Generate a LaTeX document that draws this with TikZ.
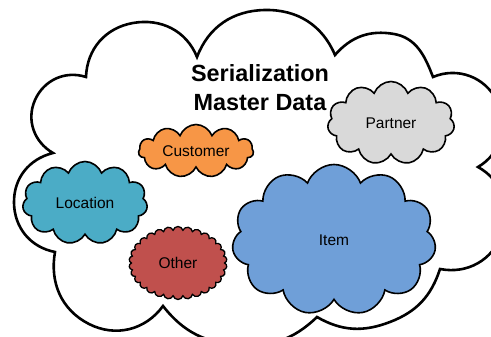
\documentclass[tikz,border=0pt]{standalone}
\usepackage{fontspec}
\setmainfont{Liberation Sans}
\usetikzlibrary{shapes.symbols}
\definecolor{cOrange}{HTML}{F79646}
\definecolor{cGray}{HTML}{D9D9D9}
\definecolor{cTeal}{HTML}{4BACC6}
\definecolor{cRed}{HTML}{C0504D}
\definecolor{cBlue}{HTML}{6F9FD8}
\begin{document}
\begin{tikzpicture}[x=1pt,y=1pt,
  smallcloud/.style={cloud, cloud puffs=11, cloud puff arc=140, cloud ignores aspect,
    draw=black, line width=1.6pt, inner sep=0pt,
    font=\fontsize{15.5}{18}\selectfont},
  bigcloud/.style={draw=black, line width=2.6pt, fill=white},
  titletext/.style={align=center, inner sep=0pt,
    font=\fontsize{23.4}{29}\selectfont\bfseries}
]
\useasboundingbox (0,0) rectangle (491,337);
\begin{scope}
\clip (0,0) rectangle (491,337);
\coordinate (N1) at (86,260);
\coordinate (N2) at (197,280);
\coordinate (N3) at (335,282);
\coordinate (N4) at (433,260);
\coordinate (N5) at (478,170);
\coordinate (N6) at (440,68);
\coordinate (N7) at (317,20);
\coordinate (N8) at (163,31);
\coordinate (N9) at (55,85);
\coordinate (N10) at (53,184);
\draw[bigcloud]
  (N1) to[out=88,in=190] (133,314) to[out=10,in=112] (N2)
  to[out=69,in=181] (265,327) to[out=1,in=113] (N3)
  to[out=49,in=170] (394,303) to[out=-10,in=111] (N4)
  to[out=23,in=116] (497,236) to[out=-64,in=30] (N5)
  to[out=-29,in=70] (502,103) to[out=-110,in=-11] (N6)
  to[out=-108,in=21] (390,15) to[out=-159,in=-30] (N7)
  to[out=-136,in=-4] (238,-8) to[out=176,in=-52] (N8)
  to[out=-126,in=-27] (89,13) to[out=153,in=-100] (N9)
  to[out=169,in=-89] (14,134) to[out=91,in=194] (N10)
  to[out=150,in=246] (35,237) to[out=66,in=162] (N1) -- cycle;
\end{scope}
\node[titletext] (title) at (260,249) {Serialization\\Master Data};
\node[smallcloud, fill=cOrange, minimum width=115pt, minimum height=53pt] (customer) at (196,186) {Customer};
\node[smallcloud, fill=cGray, minimum width=127pt, minimum height=83pt] (partner) at (391,214) {Partner};
\node[smallcloud, fill=cTeal, minimum width=125pt, minimum height=83pt] (location) at (85,134) {Location};
\node[smallcloud, fill=cBlue, minimum width=204pt, minimum height=151pt] (item) at (334,97) {Item};
\node[smallcloud, fill=cRed, cloud puffs=30, cloud puff arc=150, line width=1.3pt, minimum width=98pt, minimum height=73pt] (other) at (178,74) {Other};
\end{tikzpicture}
\end{document}
